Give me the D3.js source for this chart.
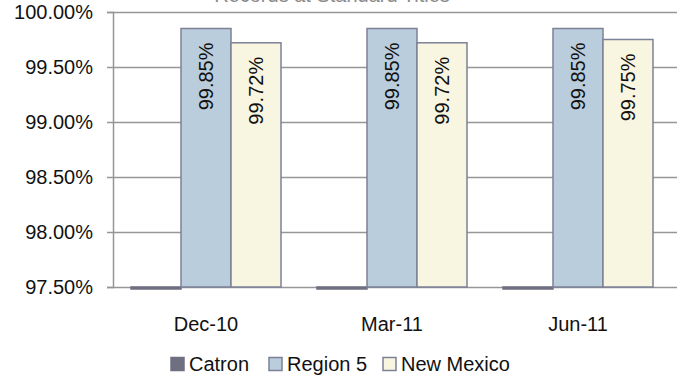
<!DOCTYPE html>
<html>
<head>
<meta charset="utf-8">
<script src="https://cdn.jsdelivr.net/npm/d3@7"></script>
<style>
  body { margin: 0; background: #fff; }
  svg { font-family: "Liberation Sans", Arial, sans-serif; }
</style>
</head>
<body>
<svg id="chart" width="677" height="377"></svg>
<script>
// chart data
var categories = ["Dec-10", "Mar-11", "Jun-11"];
var seriesNames = ["Catron", "Region 5", "New Mexico"];
var catron = [0, 0, 0];
var region5 = [0.9985, 0.9985, 0.9985];
var newMexico = [0.9972, 0.9972, 0.9975];
var yTicks = [0.975, 0.98, 0.985, 0.99, 0.995, 1.0];
var chartTitle = "Records at Standard Titles";

var fills = ["#6f6f82", "#b9cddc", "#f8f5e1"];
var strokes = ["#6f6f82", "#7d8196", "#7d8196"];

var svg = d3.select("#chart");
var plotLeft = 113, plotRight = 671, plotTop = 12, plotBottom = 287;

var x0 = d3.scaleBand().domain(categories).range([plotLeft, plotRight])
    .paddingInner(0.1935).paddingOuter(0.0968);
var x1 = d3.scaleBand().domain(seriesNames).range([0, x0.bandwidth()]);
var y = d3.scaleLinear().domain([0.975, 1]).range([plotBottom, plotTop]).clamp(true);

// title (mostly cut off at the top edge)
svg.append("text")
   .attr("x", 332).attr("y", 1.5)
   .attr("text-anchor", "middle")
   .attr("font-size", "20px")
   .attr("fill", "#8a8a8a")
   .text(chartTitle);

// gridlines
svg.append("g").selectAll("line")
   .data(yTicks)
   .enter().append("line")
   .attr("x1", plotLeft).attr("x2", 677)
   .attr("y1", function(d) { return Math.round(y(d)) + 0.5; })
   .attr("y2", function(d) { return Math.round(y(d)) + 0.5; })
   .attr("stroke", "#969696").attr("stroke-width", 1.5);

// y axis
var yAxis = svg.append("g")
   .attr("transform", "translate(" + plotLeft + ",0)")
   .call(d3.axisLeft(y).tickValues(yTicks).tickSize(6).tickPadding(14)
         .tickFormat(d3.format(".2%")));
yAxis.select(".domain").attr("stroke", "#969696").attr("stroke-width", 1.5);
yAxis.selectAll(".tick line").attr("stroke", "#969696").attr("stroke-width", 1.5);
yAxis.selectAll(".tick text").attr("font-size", "20px").attr("fill", "#111")
     .attr("font-family", "Liberation Sans, Arial, sans-serif");

// x axis labels
var xAxis = svg.append("g")
   .attr("transform", "translate(0," + plotBottom + ")")
   .call(d3.axisBottom(x0).tickSize(0).tickPadding(30));
xAxis.select(".domain").remove();
xAxis.selectAll(".tick text").attr("font-size", "20px").attr("fill", "#111")
     .attr("font-family", "Liberation Sans, Arial, sans-serif");

// bars
var rows = categories.map(function(c, i) {
  return { cat: c, vals: [catron[i], region5[i], newMexico[i]] };
});

var groups = svg.append("g").selectAll("g")
   .data(rows)
   .enter().append("g")
   .attr("transform", function(d) { return "translate(" + x0(d.cat) + ",0)"; });

// values below the axis minimum show as a thin bar just under the axis
groups.selectAll("rect")
   .data(function(d) { return d.vals.map(function(v, k) { return { name: seriesNames[k], k: k, v: v }; }); })
   .enter().append("rect")
   .attr("x", function(d) { return x1(d.name); })
   .attr("width", x1.bandwidth())
   .attr("y", function(d) { return y(d.v); })
   .attr("height", function(d) { return Math.max(2, plotBottom - y(d.v)); })
   .attr("fill", function(d) { return fills[d.k]; })
   .attr("stroke", function(d) { return strokes[d.k]; })
   .attr("stroke-width", 1.5);

// data labels (not for Catron)
groups.selectAll("text.lbl")
   .data(function(d) { return d.vals.map(function(v, k) { return { name: seriesNames[k], k: k, v: v }; }).filter(function(d) { return d.k > 0; }); })
   .enter().append("text")
   .attr("class", "lbl")
   .attr("transform", function(d) {
     return "translate(" + (x1(d.name) + x1.bandwidth() / 2) + "," + (y(d.v) + 14) + ") rotate(-90)";
   })
   .attr("text-anchor", "end")
   .attr("dy", "0.35em")
   .attr("font-size", "20px")
   .attr("fill", "#111")
   .text(function(d) { return d3.format(".2%")(d.v); });

// legend
var legendX = [170, 268, 382];
var legend = svg.append("g").selectAll("g")
   .data(seriesNames)
   .enter().append("g")
   .attr("transform", function(d, i) { return "translate(" + legendX[i] + ",357)"; });
legend.append("rect")
   .attr("x", 1).attr("y", 0.5).attr("width", 13).attr("height", 13)
   .attr("fill", function(d, i) { return fills[i]; })
   .attr("stroke", function(d, i) { return strokes[i]; })
   .attr("stroke-width", 1.5);
legend.append("text")
   .attr("x", 19).attr("y", 14)
   .attr("font-size", "20px").attr("fill", "#111")
   .text(function(d) { return d; });
</script>
</body>
</html>
